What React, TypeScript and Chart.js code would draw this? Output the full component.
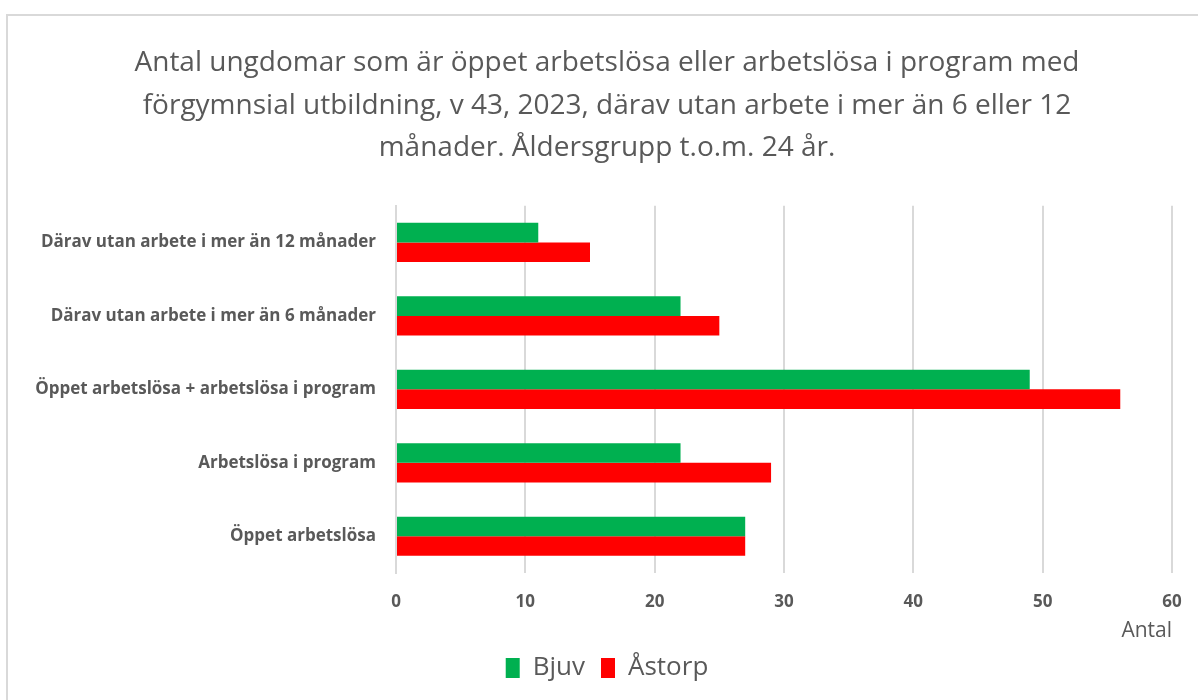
import React, { useEffect, useRef } from "react";
import { Chart, registerables } from "chart.js";

Chart.register(...registerables);

const categories: string[] = [
  "Därav utan arbete i mer än 12 månader",
  "Därav utan arbete i mer än 6 månader",
  "Öppet arbetslösa + arbetslösa i program",
  "Arbetslösa i program",
  "Öppet arbetslösa",
];
const bjuv: number[] = [11, 22, 49, 22, 27];
const astorp: number[] = [15, 25, 56, 29, 27];
const seriesNames: string[] = ["Bjuv", "Åstorp"];
const titleLines: string[] = [
  "Antal ungdomar som är öppet arbetslösa eller arbetslösa i program med",
  "förgymnsial utbildning, v 43, 2023, därav utan arbete i mer än 6 eller 12",
  "månader. Åldersgrupp t.o.m. 24 år.",
];
const xTitle = "Antal";
const xMin = 0;
const xMax = 60;
const xStep = 10;

const FONT = "'Open Sans', sans-serif";
const TEXT = "#595959";

export default function App() {
  const ref = useRef<HTMLCanvasElement>(null);
  useEffect(() => {
    if (!ref.current) return;
    const chart = new Chart(ref.current, {
      type: "bar",
      data: {
        labels: categories,
        datasets: [
          { label: seriesNames[0], data: bjuv, backgroundColor: "#00B050", borderWidth: 0 },
          { label: seriesNames[1], data: astorp, backgroundColor: "#FF0000", borderWidth: 0 },
        ],
      },
      options: {
        indexAxis: "y",
        animation: false,
        responsive: false,
        maintainAspectRatio: false,
        layout: { padding: { left: 26, right: 10, top: 0, bottom: 9 } },
        datasets: { bar: { categoryPercentage: 0.533, barPercentage: 1 } },
        plugins: {
          tooltip: { enabled: false },
          title: {
            display: true,
            text: titleLines,
            color: TEXT,
            font: { family: FONT, size: 28, weight: "normal", lineHeight: 1.52 },
            padding: { top: 42, bottom: 36 },
          },
          legend: {
            display: true,
            position: "bottom",
            labels: {
              color: TEXT,
              font: { family: FONT, size: 26 },
              boxWidth: 14,
              boxHeight: 20,
              padding: 16,
            },
          },
        },
        scales: {
          x: {
            min: xMin,
            max: xMax,
            ticks: {
              stepSize: xStep,
              color: TEXT,
              padding: 19,
              font: { family: FONT, size: 17, weight: "bold" },
            },
            grid: { color: "#D9D9D9", lineWidth: 2, drawTicks: false },
            border: { display: false },
            title: {
              display: true,
              text: xTitle,
              align: "end",
              color: TEXT,
              font: { family: FONT, size: 21, weight: "normal" },
              padding: { top: -13, bottom: -4.6 },
            },
            afterFit: (scale: any) => {
              scale.paddingRight = 26;
            },
          },
          y: {
            ticks: {
              color: TEXT,
              padding: 20,
              font: { family: FONT, size: 17, weight: "bold" },
            },
            grid: { display: false, drawTicks: false },
            border: { display: true, color: "#D9D9D9", width: 2 },
            afterFit: (scale: any) => {
              scale.width = 370;
            },
          },
        },
      },
    });
    return () => chart.destroy();
  }, []);

  return (
    <div
      style={{
        position: "absolute",
        left: 0,
        top: 0,
        width: 1198,
        height: 700,
        overflow: "hidden",
        background: "#ffffff",
      }}
    >
      <div
        style={{
          position: "absolute",
          left: 6,
          top: 14,
          width: 1300,
          height: 800,
          border: "2px solid #D9D9D9",
        }}
      />
      <canvas
        ref={ref}
        width={1198}
        height={700}
        style={{ position: "absolute", left: 0, top: 0, width: 1198, height: 700 }}
      />
    </div>
  );
}
